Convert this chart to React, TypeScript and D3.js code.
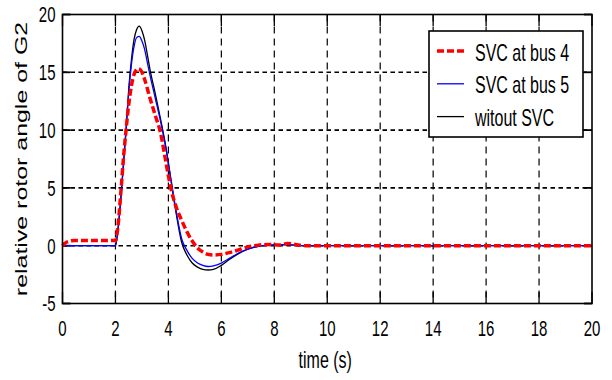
import React from "react";
import * as d3 from "d3";

// Axis ticks
const timeTicks = [0, 2, 4, 6, 8, 10, 12, 14, 16, 18, 20];
const angleTicks = [-5, 0, 5, 10, 15, 20];

// Relative rotor angle of G2 (deg) versus time (s)
const tBus4 = [0, 0.15, 0.45, 2.0, 2.1, 2.2, 2.3, 2.4, 2.5, 2.6, 2.7, 2.85, 2.95, 3.1, 3.3, 3.5, 3.7, 3.9, 4.1, 4.3, 4.5, 4.7, 4.9, 5.1, 5.3, 5.5, 5.7, 6.0, 6.3, 6.6, 7.0, 7.4, 7.8, 8.2, 8.5, 8.8, 9.2, 20];
const vBus4 = [0, 0.3, 0.45, 0.45, 1.8, 4.5, 7.5, 10.0, 12.2, 13.8, 14.8, 15.3, 15.2, 14.4, 12.8, 11.3, 9.8, 7.3, 4.9, 3.3, 2.2, 1.2, 0.4, -0.2, -0.55, -0.75, -0.8, -0.75, -0.6, -0.4, -0.1, 0.05, 0.1, 0.05, 0.2, 0.1, 0, 0];

const tBus5 = [0, 2.0, 2.1, 2.2, 2.3, 2.4, 2.5, 2.6, 2.7, 2.8, 2.9, 3.0, 3.1, 3.2, 3.3, 3.5, 3.7, 3.9, 4.1, 4.3, 4.5, 4.7, 4.9, 5.1, 5.3, 5.5, 5.7, 6.0, 6.3, 6.6, 7.0, 7.4, 7.8, 8.5, 9.0, 20];
const vBus5 = [0, 0, 1.5, 4.0, 7.0, 10.0, 13.2, 15.6, 17.2, 18.0, 18.1, 17.7, 17.0, 15.9, 14.8, 12.8, 10.8, 8.5, 5.7, 2.9, 0.6, -0.4, -1.1, -1.5, -1.7, -1.8, -1.75, -1.5, -1.1, -0.7, -0.3, -0.05, 0.05, 0.1, 0, 0];

const tNoSvc = [0, 2.0, 2.1, 2.2, 2.3, 2.4, 2.5, 2.6, 2.7, 2.8, 2.9, 3.0, 3.1, 3.2, 3.3, 3.5, 3.7, 3.9, 4.1, 4.3, 4.5, 4.7, 4.9, 5.1, 5.3, 5.5, 5.7, 6.0, 6.3, 6.6, 7.0, 7.4, 7.8, 8.5, 9.0, 20];
const vNoSvc = [0, 0, 1.5, 4.0, 7.0, 10.0, 13.5, 16.0, 17.8, 18.7, 19.0, 18.6, 17.8, 16.6, 15.3, 13.2, 11.0, 8.6, 5.6, 2.7, 0.3, -0.8, -1.5, -1.85, -2.05, -2.1, -2.05, -1.7, -1.2, -0.75, -0.3, -0.05, 0.05, 0.1, 0, 0];

const seriesNames = ["SVC at bus 4", "SVC at bus 5", "witout SVC"];

const W = 612;
const H = 380;
const SY = 1.45; // glyphs are drawn tall and narrow
const FONT = "'Liberation Sans', Arial, sans-serif";

const x = d3.scaleLinear().domain([0, 20]).range([62.5, 592]);
const y = d3.scaleLinear().domain([-5, 20]).range([303.5, 14.5]);

type Pt = [number, number];
const zip = (t: number[], v: number[]): Pt[] => t.map((ti, i) => [ti, v[i]]);

const line = d3
  .line<Pt>()
  .x((d) => x(d[0]))
  .y((d) => y(d[1]))
  .curve(d3.curveMonotoneX);

function Txt(props: {
  x: number;
  y: number;
  size: number;
  anchor?: string;
  rotate?: boolean;
  children: React.ReactNode;
}) {
  const { x: tx, y: ty, size, anchor = "start", rotate = false, children } = props;
  return (
    <text
      transform={`translate(${tx},${ty}) scale(1,${SY})${rotate ? " rotate(-90)" : ""}`}
      textAnchor={anchor}
      fontSize={size}
      fontFamily={FONT}
      fill="#000"
    >
      {children}
    </text>
  );
}

export default function App() {
  const [x0, x1] = x.range();
  const [y0, y1] = y.range();
  const tickLenV = 11.5;
  const tickLenH = 8;

  const series = [
    { name: seriesNames[2], data: zip(tNoSvc, vNoSvc), color: "#000", width: 1.3, dash: undefined },
    { name: seriesNames[1], data: zip(tBus5, vBus5), color: "#0000ff", width: 1.3, dash: undefined },
    { name: seriesNames[0], data: zip(tBus4, vBus4), color: "#ff0000", width: 3.5, dash: "7,3" },
  ];
  const legendOrder = [series[2], series[1], series[0]];

  return (
    <svg
      width={W}
      height={H}
      style={{ position: "absolute", left: 0, top: 0, background: "#fff" }}
    >
      <rect x={0} y={0} width={W} height={H} fill="#fff" />

      {/* grid */}
      {timeTicks.slice(1, -1).map((t) => (
        <line key={`gx${t}`} x1={x(t)} x2={x(t)} y1={y1} y2={y0} stroke="#000" strokeWidth={1.2} strokeDasharray="7,5" />
      ))}
      {angleTicks.slice(1, -1).map((v) => (
        <line key={`gy${v}`} x1={x0} x2={x1} y1={y(v)} y2={y(v)} stroke="#000" strokeWidth={1.6} strokeDasharray="4.5,3.5" />
      ))}

      {/* ticks */}
      {timeTicks.map((t) => (
        <g key={`tx${t}`}>
          <line x1={x(t)} x2={x(t)} y1={y0} y2={y0 - tickLenV} stroke="#000" strokeWidth={1.3} />
          <line x1={x(t)} x2={x(t)} y1={y1} y2={y1 + tickLenV} stroke="#000" strokeWidth={1.3} />
        </g>
      ))}
      {angleTicks.map((v) => (
        <g key={`ty${v}`}>
          <line x1={x0} x2={x0 + tickLenH} y1={y(v)} y2={y(v)} stroke="#000" strokeWidth={1.8} />
          <line x1={x1} x2={x1 - tickLenH} y1={y(v)} y2={y(v)} stroke="#000" strokeWidth={1.8} />
        </g>
      ))}

      {/* curves */}
      {series.map((s) => (
        <path
          key={s.name}
          d={line(s.data) || ""}
          fill="none"
          stroke={s.color}
          strokeWidth={s.width}
          strokeDasharray={s.dash}
        />
      ))}

      {/* axes box */}
      <rect x={x0} y={y1} width={x1 - x0} height={y0 - y1} fill="none" stroke="#000" strokeWidth={1.6} />

      {/* tick labels */}
      {timeTicks.map((t) => (
        <Txt key={`lx${t}`} x={x(t)} y={336} size={15} anchor="middle">
          {t}
        </Txt>
      ))}
      {angleTicks.map((v) => (
        <Txt key={`ly${v}`} x={55.5} y={y(v) + 7.8} size={15} anchor="end">
          {v}
        </Txt>
      ))}

      {/* axis labels */}
      <Txt x={(x0 + x1) / 2 - 2} y={368} size={16} anchor="middle">
        time (s)
      </Txt>
      <Txt x={27} y={159} size={17.2} anchor="middle" rotate>
        relative rotor angle of G2
      </Txt>

      {/* legend */}
      <rect x={429} y={31} width={154} height={106} fill="#fff" stroke="#000" strokeWidth={1.6} />
      {legendOrder.map((s, i) => {
        const ly = 51 + i * 32.8;
        return (
          <g key={`lg${s.name}`}>
            <line x1={437} x2={464} y1={ly} y2={ly} stroke={s.color} strokeWidth={s.width} strokeDasharray={s.dash} />
            <Txt x={475} y={ly + 9.5} size={16}>
              {s.name}
            </Txt>
          </g>
        );
      })}
    </svg>
  );
}
